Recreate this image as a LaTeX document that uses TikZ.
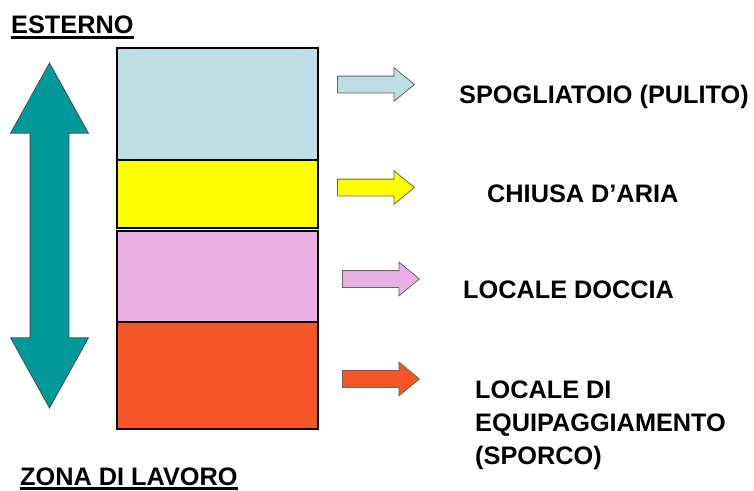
\documentclass[tikz,border=0pt]{standalone}
\usepackage{fontspec}
\setmainfont{Liberation Sans}
\usetikzlibrary{shapes.arrows, positioning}

\definecolor{celeste}{RGB}{188,222,228}
\definecolor{giallo}{RGB}{255,255,0}
\definecolor{rosa}{RGB}{234,176,230}
\definecolor{arancio}{RGB}{245,86,40}
\definecolor{verdeacqua}{RGB}{0,153,153}

\begin{document}
\begin{tikzpicture}[x=1pt,y=-1pt,node distance=0pt,
  room/.style={rectangle,draw=black,line width=1.2pt,minimum width=201pt,inner sep=0pt,outer sep=0pt},
  small arrow/.style={single arrow,draw=black!60,line width=0.8pt,anchor=tail,
    minimum height=77pt,single arrow head extend=8.5pt,
    single arrow tip angle=79,inner xsep=0pt,inner ysep=8pt},
  room name/.style={font=\fontsize{25.3}{33}\selectfont\bfseries,inner sep=0pt,anchor=base west}]
  \useasboundingbox (0,0) rectangle (754,490);
  % the four rooms, stacked
  \node[room, fill=celeste, minimum height=112pt] (spogliatoio) at (217.5,104) {};
  \node[room, fill=giallo, minimum height=68pt] (chiusa) [below=of spogliatoio] {};
  \node[room, fill=rosa, minimum height=91pt] (doccia) [below=3pt of chiusa] {};
  \node[room, fill=arancio, minimum height=107pt] (equip) [below=of doccia] {};
  % up/down arrow
  \node[double arrow, rotate=90, fill=verdeacqua, draw=black!70, line width=0.8pt,
    minimum height=345pt, double arrow head extend=19.5pt,
    double arrow tip angle=58, inner xsep=0pt, inner ysep=19pt] (percorso) at (49.5,235.5) {};
  % small arrows
  \node[small arrow, fill=celeste] (a1) at (337,84.5) {};
  \node[small arrow, fill=giallo] (a2) at (337,187.5) {};
  \node[small arrow, fill=rosa] (a3) at (342,279) {};
  \node[small arrow, fill=arancio] (a4) at (342,379) {};
  % names
  \node[room name] (n1) at (459,103) {SPOGLIATOIO (PULITO)};
  \node[room name] (n2) at (487,202) {CHIUSA D’ARIA};
  \node[room name] (n3) at (463,298) {LOCALE DOCCIA};
  \node[room name, anchor=north west, align=left] (n4) at (475,381)
    {LOCALE DI\\EQUIPAGGIAMENTO\\(SPORCO)};
  \node[room name] (esterno) at (11,33) {ESTERNO};
  \draw[line width=2.4pt] ([yshift=-4.5pt]esterno.base west) -- ([yshift=-4.5pt]esterno.base east);
  \node[room name] (zona) at (20,485) {ZONA DI LAVORO};
  \draw[line width=2.4pt] ([yshift=-3.5pt]zona.base west) -- ([yshift=-3.5pt]zona.base east);
\end{tikzpicture}
\end{document}
